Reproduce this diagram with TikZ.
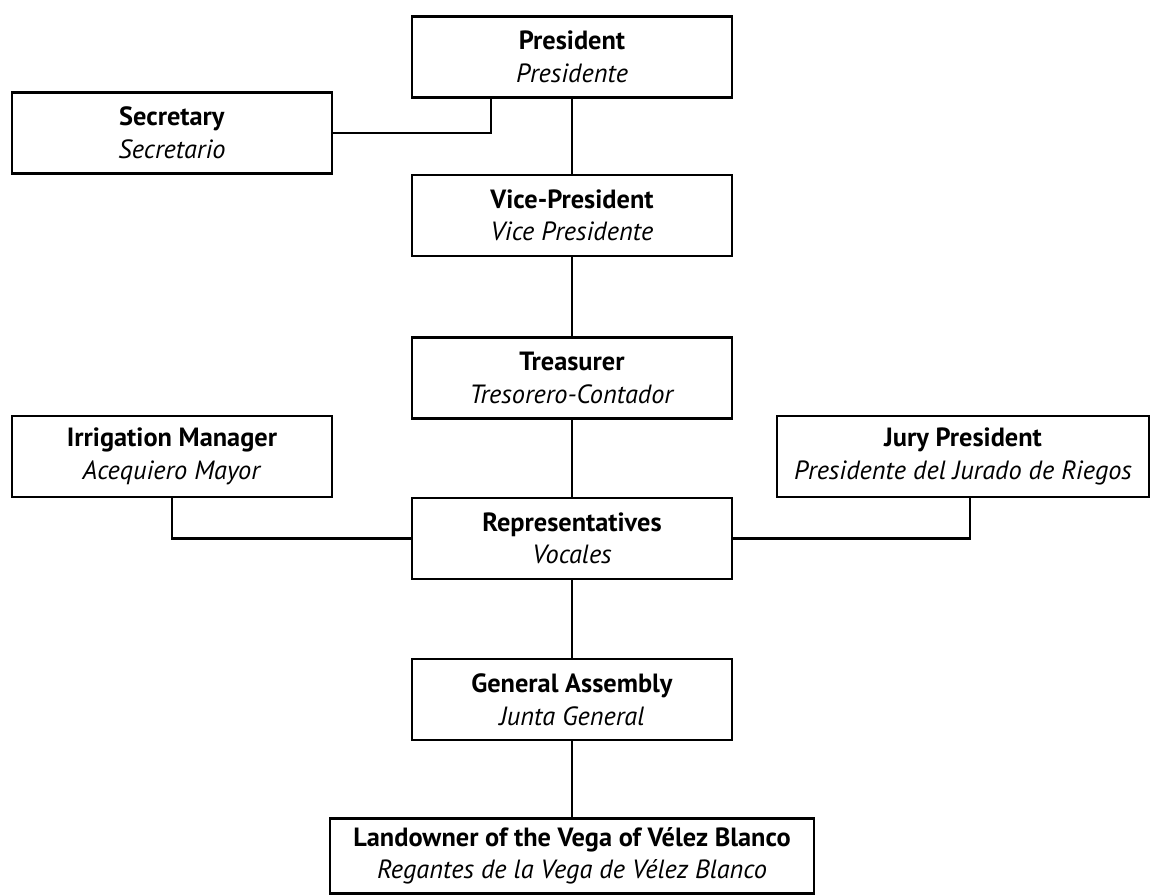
\documentclass[tikz,border=0pt]{standalone}
\usepackage{fontspec}
\setmainfont{PT Sans}
\usepackage{tikz}
\usetikzlibrary{arrows}
\usetikzlibrary{positioning}

\begin{document}
\begin{tikzpicture}[x=0.02cm,y=-0.02cm]
	\tikzstyle{lien}=[-,line width=1.2pt]
	\tikzset{poste/.style={draw,rectangle,line width=1.2pt,align=center,inner sep=0pt,minimum width=6.4cm,minimum height=1.62cm,font=\fontsize{15}{18.5}\selectfont}}
	\useasboundingbox (0,0) rectangle (1151,895);
	\node[poste] (p0) at (572,57) {\textbf{President}\\\textit{Presidente}};
	\node[poste] (s1) at (172,133) {\textbf{Secretary}\\\textit{Secretario}};
	\node[poste] (v1) at (572,215.5) {\textbf{Vice-President}\\\textit{Vice Presidente}};
	\node[poste] (t1) at (572,378) {\textbf{Treasurer}\\\textit{Tresorero-Contador}};
	\node[poste] (m1) at (172,456.5) {\textbf{Irrigation Manager}\\\textit{Acequiero Mayor}};
	\node[poste,minimum width=7.44cm] (j1) at (963,456.5) {\textbf{Jury President}\\\textit{Presidente del Jurado de Riegos}};
	\node[poste] (r1) at (572,538.5) {\textbf{Representatives}\\\textit{Vocales}};
	\node[poste] (g1) at (572,699.5) {\textbf{General Assembly}\\\textit{Junta General}};
	\node[poste,minimum width=9.68cm,minimum height=1.5cm] (l1) at (572,856) {\textbf{Landowner of the Vega of Vélez Blanco}\\\textit{Regantes de la Vega de Vélez Blanco}};
	\draw[lien] (p0) -- (v1);
	\draw[lien] (s1.east) -| ([xshift=-1.62cm]p0.south);
	\draw[lien] (v1) -- (t1);
	\draw[lien] (t1) -- (r1);
	\draw[lien] (m1.south) |- (r1.west);
	\draw[lien] ([xshift=0.14cm]j1.south) |- (r1.east);
	\draw[lien] (r1) -- (g1);
	\draw[lien] (g1) -- (l1);
\end{tikzpicture}
\end{document}
